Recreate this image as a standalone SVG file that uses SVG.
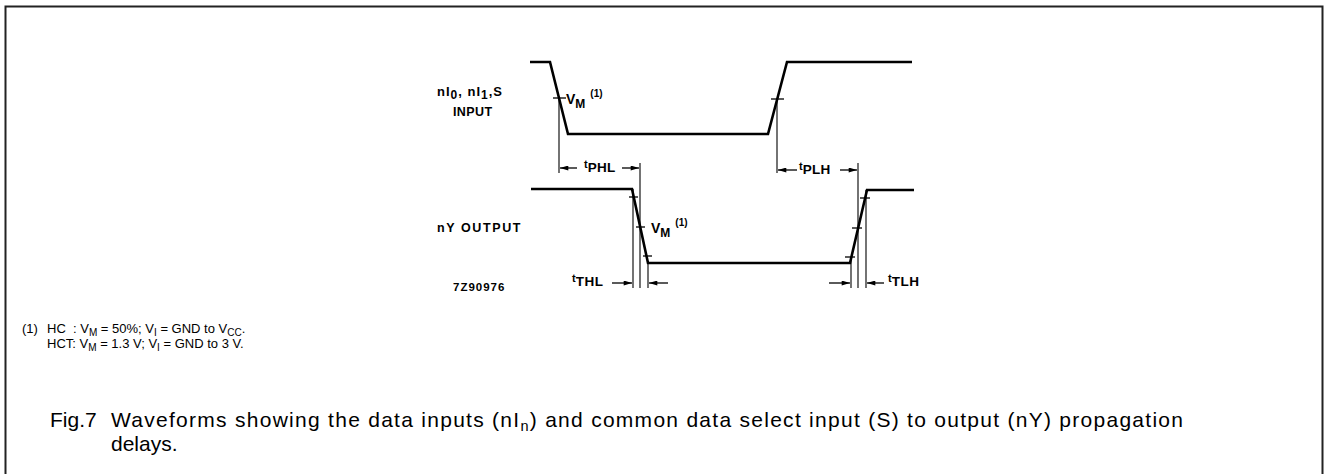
<svg xmlns="http://www.w3.org/2000/svg" width="1326" height="474" viewBox="0 0 1326 474">
<style>
.wave{fill:none;stroke:#000;stroke-width:2.6;stroke-linejoin:miter}
.thin{fill:none;stroke:#000;stroke-width:1.1}
.tick{fill:none;stroke:#000;stroke-width:1.3}
.arr{fill:none;stroke:#000;stroke-width:1.3;marker-end:url(#ah)}
.lbl{font-family:"Liberation Sans",Arial,sans-serif;font-weight:bold;fill:#000}
.note{font-family:"Liberation Sans",Arial,sans-serif;font-size:13px;fill:#000;white-space:pre}
.cap{font-family:"Liberation Sans",Arial,sans-serif;font-size:21px;fill:#000}
</style>
<defs>
<marker id="ah" viewBox="0 0 10 6" refX="10" refY="3" markerWidth="10" markerHeight="5" markerUnits="userSpaceOnUse" orient="auto">
<path d="M0,0 L10,3 L0,6 Z" fill="#000"/>
</marker>
</defs>
<rect width="1326" height="474" fill="#fff"/>
<g id="frame">
<path d="M5.5,474 V6.5 H1322.5 V474" fill="none" stroke="#222" stroke-width="2"/>
</g>
<g id="input-waveform">
<polyline class="wave" points="530,62 550,62 568,134 768,134 787,62 912,62"/>
<line class="tick" x1="553" y1="98" x2="566" y2="98"/>
<line class="tick" x1="771" y1="99" x2="784" y2="99"/>
<text class="lbl" x="437" y="96" font-size="13" letter-spacing="1">nI<tspan dy="3" font-size="12">0</tspan><tspan dy="-3">, nI</tspan><tspan dy="3" font-size="12">1</tspan><tspan dy="-3">,S</tspan></text>
<text class="lbl" x="453" y="116" font-size="12.5" letter-spacing="0.4">INPUT</text>
<text class="lbl" x="566" y="104" font-size="14">V<tspan dy="4" font-size="12">M</tspan><tspan dy="-11" font-size="10" dx="5">(1)</tspan></text>
</g>
<g id="output-waveform">
<polyline class="wave" points="531,189 632,189 648,263 850,263 867,190 914,190"/>
<line class="tick" x1="629" y1="197" x2="638" y2="197"/>
<line class="tick" x1="636" y1="227" x2="645" y2="227"/>
<line class="tick" x1="643" y1="256" x2="652" y2="256"/>
<line class="tick" x1="845" y1="257" x2="855" y2="257"/>
<line class="tick" x1="852" y1="228" x2="862" y2="228"/>
<line class="tick" x1="860" y1="198" x2="870" y2="198"/>
<text class="lbl" x="437" y="232" font-size="12.5" letter-spacing="1.6">nY  OUTPUT</text>
<text class="lbl" x="651" y="233" font-size="14">V<tspan dy="4" font-size="12">M</tspan><tspan dy="-11" font-size="10" dx="5">(1)</tspan></text>
<text class="lbl" x="453" y="291" font-size="11.5" letter-spacing="1">7Z90976</text>
</g>
<g id="connectors">
<line class="thin" x1="559" y1="98" x2="559" y2="173"/>
<line class="thin" x1="777" y1="99" x2="777" y2="173"/>
<line class="thin" x1="640" y1="163" x2="640" y2="288"/>
<line class="thin" x1="633" y1="189" x2="633" y2="288"/>
<line class="thin" x1="648" y1="262" x2="648" y2="288"/>
<line class="thin" x1="851" y1="257" x2="851" y2="288"/>
<line class="thin" x1="858" y1="163" x2="858" y2="288"/>
<line class="thin" x1="866" y1="190" x2="866" y2="288"/>
<line class="arr" x1="577" y1="168" x2="560" y2="168"/>
<line class="arr" x1="622" y1="168" x2="639" y2="168"/>
<line class="arr" x1="797" y1="170" x2="778" y2="170"/>
<line class="arr" x1="840" y1="170" x2="857" y2="170"/>
<line class="arr" x1="612" y1="283" x2="632" y2="283"/>
<line class="arr" x1="668" y1="283" x2="649" y2="283"/>
<line class="arr" x1="829" y1="283" x2="850" y2="283"/>
<line class="arr" x1="884" y1="283" x2="867" y2="283"/>
</g>
<g id="timing-labels">
<text class="lbl" x="584" y="168" font-size="11" font-weight="normal">t<tspan dy="4" font-size="13.5" font-weight="bold" letter-spacing="0.3">PHL</tspan></text>
<text class="lbl" x="799" y="170" font-size="11" font-weight="normal">t<tspan dy="4" font-size="13.5" font-weight="bold" letter-spacing="0.3">PLH</tspan></text>
<text class="lbl" x="572" y="282" font-size="11" font-weight="normal">t<tspan dy="4" font-size="13.5" font-weight="bold" letter-spacing="0.6">THL</tspan></text>
<text class="lbl" x="888" y="282" font-size="11" font-weight="normal">t<tspan dy="4" font-size="13.5" font-weight="bold" letter-spacing="0.6">TLH</tspan></text>
</g>
<g id="footnote">
<text class="note" x="22" y="333">(1)</text>
<text class="note" x="47" y="333">HC  : V<tspan dy="3" font-size="10">M</tspan><tspan dy="-3"> = 50%; V</tspan><tspan dy="3" font-size="10">I</tspan><tspan dy="-3"> = GND to V</tspan><tspan dy="3" font-size="10">CC</tspan><tspan dy="-3">.</tspan></text>
<text class="note" x="47" y="348">HCT: V<tspan dy="3" font-size="10">M</tspan><tspan dy="-3"> = 1.3 V; V</tspan><tspan dy="3" font-size="10">I</tspan><tspan dy="-3"> = GND to 3 V.</tspan></text>
</g>
<g id="caption">
<text class="cap" x="50" y="427">Fig.7</text>
<text class="cap" x="111" y="427" textLength="1072" lengthAdjust="spacing">Waveforms showing the data inputs (nI<tspan dy="4" font-size="14.5">n</tspan><tspan dy="-4">) and common data select input (S) to output (nY) propagation</tspan></text>
<text class="cap" x="111" y="451">delays.</text>
</g>
</svg>
